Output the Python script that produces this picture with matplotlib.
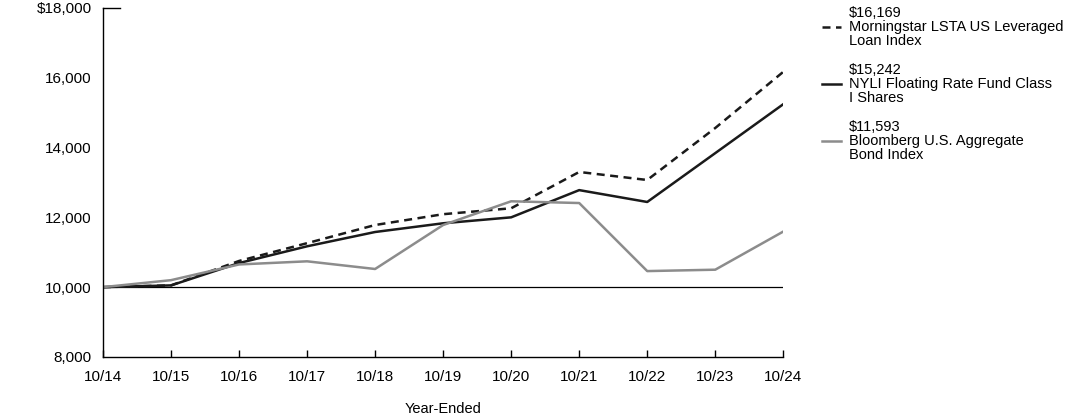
import matplotlib
matplotlib.use("Agg")
import matplotlib.pyplot as plt
from matplotlib.ticker import FuncFormatter

plt.rcParams['font.family'] = ['Liberation Sans', 'DejaVu Sans']

years = ['10/14', '10/15', '10/16', '10/17', '10/18', '10/19', '10/20', '10/21', '10/22', '10/23', '10/24']
morningstar = [10000, 10050, 10750, 11260, 11780, 12090, 12260, 13300, 13070, 14560, 16169]
nyli = [10000, 10050, 10690, 11170, 11580, 11830, 12000, 12780, 12440, 13840, 15242]
bloomberg = [10000, 10200, 10650, 10740, 10520, 11780, 12460, 12410, 10460, 10500, 11593]

labels = ['$16,169\nMorningstar LSTA US Leveraged\nLoan Index',
          '$15,242\nNYLI Floating Rate Fund Class\nI Shares',
          '$11,593\nBloomberg U.S. Aggregate\nBond Index']

fig = plt.figure(figsize=(10.92, 4.17), dpi=100)
ax = fig.add_axes([0.0943, 0.144, 0.623, 0.837])

x = range(len(years))
l1, = ax.plot(x, morningstar, color='#1a1a1a', lw=1.8, ls=(0, (3.2, 2.2)))
l2, = ax.plot(x, nyli, color='#1a1a1a', lw=1.8)
l3, = ax.plot(x, bloomberg, color='#8c8c8c', lw=1.8)

ax.axhline(10000, color='black', lw=0.9, zorder=0)
# short mark at the top of the y axis
ax.axhline(18000, xmin=0, xmax=0.025, color='black', lw=1.0, clip_on=False)

ax.set_xlim(0, len(years) - 1)
ax.set_ylim(8000, 18000)
ax.set_xticks(list(x))
ax.set_xticklabels(years)
ax.set_yticks([8000, 10000, 12000, 14000, 16000, 18000])
ax.yaxis.set_major_formatter(FuncFormatter(lambda v, p: ('$' if v == 18000 else '') + f'{int(v):,}'))

for s in ['top', 'right']:
    ax.spines[s].set_visible(False)
for s in ['left', 'bottom']:
    ax.spines[s].set_linewidth(1.0)
ax.tick_params(axis='x', direction='in', length=5, width=1.0, pad=9.5, labelsize=11)
ax.tick_params(axis='y', length=0, pad=8, labelsize=11)
ax.set_xlabel('Year-Ended', fontsize=10.5, labelpad=13)

leg = fig.legend([l1, l2, l3], labels, loc='upper left', bbox_to_anchor=(0.741, 1.017),
                 frameon=False, fontsize=10.5, handlelength=1.25, handletextpad=0.55,
                 labelspacing=1.02)
for t in leg.get_texts():
    t.set_linespacing(1.0)

fig.savefig('out.png', dpi=100)
